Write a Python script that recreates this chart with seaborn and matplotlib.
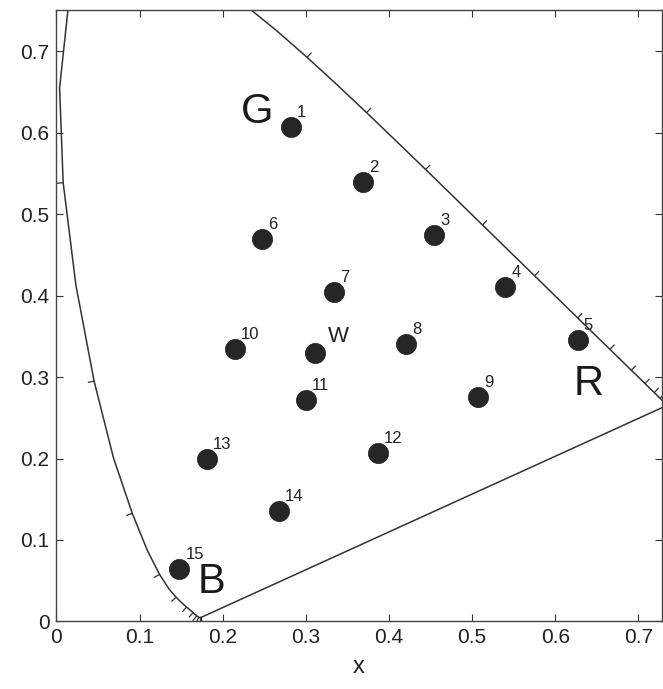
import numpy as np
import pandas as pd
import matplotlib
matplotlib.use("Agg")
import matplotlib.pyplot as plt
import seaborn as sns

# CIE 1931 spectral locus (chromaticity x, y), 380-700 nm in 5 nm steps
wavelength = list(range(380, 705, 5))
locus_x = [0.1741, 0.1740, 0.1738, 0.1736, 0.1733, 0.1730, 0.1726, 0.1721, 0.1714, 0.1703,
           0.1689, 0.1669, 0.1644, 0.1611, 0.1566, 0.1510, 0.1440, 0.1355, 0.1241, 0.1096,
           0.0913, 0.0687, 0.0454, 0.0235, 0.0082, 0.0039, 0.0139, 0.0389, 0.0743, 0.1142,
           0.1547, 0.1929, 0.2296, 0.2658, 0.3016, 0.3373, 0.3731, 0.4087, 0.4441, 0.4788,
           0.5125, 0.5448, 0.5752, 0.6029, 0.6270, 0.6482, 0.6658, 0.6801, 0.6915, 0.7006,
           0.7079, 0.7140, 0.7190, 0.7230, 0.7260, 0.7283, 0.7300, 0.7311, 0.7320, 0.7327,
           0.7334, 0.7340, 0.7344, 0.7346, 0.7347]
locus_y = [0.0050, 0.0050, 0.0049, 0.0049, 0.0048, 0.0048, 0.0048, 0.0048, 0.0051, 0.0058,
           0.0069, 0.0086, 0.0109, 0.0138, 0.0177, 0.0227, 0.0297, 0.0399, 0.0578, 0.0868,
           0.1327, 0.2007, 0.2950, 0.4127, 0.5384, 0.6548, 0.7502, 0.8120, 0.8338, 0.8262,
           0.8059, 0.7816, 0.7543, 0.7243, 0.6923, 0.6589, 0.6245, 0.5896, 0.5547, 0.5202,
           0.4866, 0.4544, 0.4242, 0.3965, 0.3725, 0.3514, 0.3340, 0.3197, 0.3083, 0.2993,
           0.2920, 0.2859, 0.2809, 0.2770, 0.2740, 0.2717, 0.2700, 0.2689, 0.2680, 0.2673,
           0.2666, 0.2660, 0.2656, 0.2654, 0.2653]

# measured colour points
point_labels = ["1", "2", "3", "4", "5", "6", "7", "8", "9", "10", "11", "12", "13", "14", "15"]
point_x = [0.282, 0.369, 0.454, 0.540, 0.627, 0.247, 0.334, 0.421, 0.507, 0.215,
           0.300, 0.387, 0.181, 0.268, 0.148]
point_y = [0.607, 0.539, 0.474, 0.410, 0.346, 0.469, 0.404, 0.340, 0.276, 0.335,
           0.272, 0.207, 0.200, 0.135, 0.064]

white_x, white_y = 0.311, 0.330

# primaries annotations
primary_names = ["G", "R", "B"]
primary_x = [0.242, 0.640, 0.187]
primary_y = [0.625, 0.292, 0.048]

xticks = [0, 0.1, 0.2, 0.3, 0.4, 0.5, 0.6, 0.7]
xtick_labels = ["0", "0.1", "0.2", "0.3", "0.4", "0.5", "0.6", "0.7"]
yticks = [0, 0.1, 0.2, 0.3, 0.4, 0.5, 0.6, 0.7]
ytick_labels = ["0", "0.1", "0.2", "0.3", "0.4", "0.5", "0.6", "0.7"]

sns.set_theme(style="ticks")
plt.rcParams['font.family'] = ['Liberation Sans', 'DejaVu Sans']

fig = plt.figure(figsize=(6.63, 6.89), dpi=100)
ax = fig.add_axes([0.085, 0.098, 0.913, 0.887])
ax.set_xlim(0, 0.728)
ax.set_ylim(0, 0.75)

line_col = "#333333"

# spectral locus + purple line
ax.plot(locus_x, locus_y, color=line_col, lw=1.1, zorder=2)
ax.plot([locus_x[0], locus_x[-1]], [locus_y[0], locus_y[-1]], color=line_col, lw=1.1, zorder=2)

# small outward ticks on the locus every 10 nm
sx, sy = 831.0, 816.0  # pixels per data unit
lx = np.array(locus_x)
ly = np.array(locus_y)
tick_len = 6.0
for i, wl in enumerate(wavelength):
    if wl % 10 != 0:
        continue
    i0 = max(i - 1, 0)
    i1 = min(i + 1, len(wavelength) - 1)
    dx = (lx[i1] - lx[i0]) * sx
    dy = (ly[i1] - ly[i0]) * sy
    n = np.hypot(dx, dy)
    if n == 0:
        continue
    nx, ny = -dy / n, dx / n
    ax.plot([lx[i], lx[i] + nx * tick_len / sx], [ly[i], ly[i] + ny * tick_len / sy],
            color=line_col, lw=0.9, zorder=2, clip_on=True)

df = pd.DataFrame({"x": point_x, "y": point_y, "label": point_labels})
sns.scatterplot(data=df, x="x", y="y", s=210, color="#262626", edgecolor="#1a1a1a",
                linewidth=0.5, ax=ax, zorder=3, legend=False)
sns.scatterplot(x=[white_x], y=[white_y], s=210, color="#262626", edgecolor="#1a1a1a",
                linewidth=0.5, ax=ax, zorder=3, legend=False)

for _, r in df.iterrows():
    ax.annotate(r["label"], (r["x"], r["y"]), xytext=(6, 7), textcoords="offset pixels",
                ha="left", va="bottom", fontsize=12, color="#222222")
ax.annotate("W", (white_x, white_y), xytext=(13, 6), textcoords="offset pixels",
            ha="left", va="bottom", fontsize=16, color="#222222")

for name, px, py in zip(primary_names, primary_x, primary_y):
    ax.text(px, py, name, ha="center", va="center", fontsize=30, color="#1a1a1a")

ax.set_xticks(xticks)
ax.set_xticklabels(xtick_labels)
ax.set_yticks(yticks)
ax.set_yticklabels(ytick_labels)
ax.tick_params(direction="in", length=5, width=0.8, top=True, right=True,
               labelsize=15, colors="#333333", labelcolor="#222222", pad=5)
for s in ax.spines.values():
    s.set_color("#444444")
    s.set_linewidth(1.0)

ax.set_xlabel("x", fontsize=17, labelpad=6, color="#222222")
ax.set_ylabel("")

fig.savefig("out.png", dpi=100, facecolor="white")
